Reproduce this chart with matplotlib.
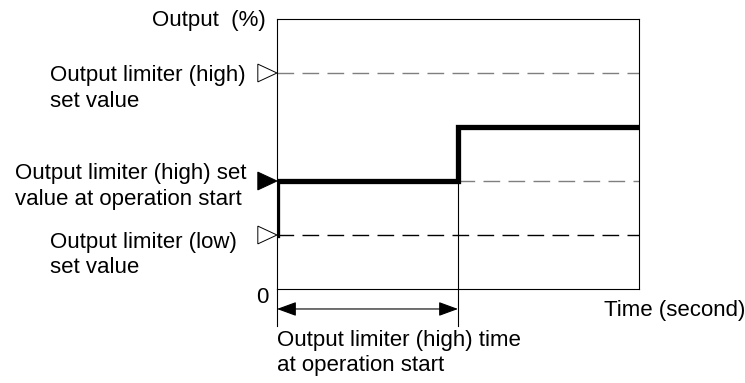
import matplotlib
matplotlib.use('Agg')
import matplotlib.pyplot as plt
from matplotlib.patches import Polygon

# output levels (%) and times (in axis units, 0..100)
low_limit = 20
start_limit = 40
high_limit = 80
step_level = 60
step_time = 50
t_end = 100

step_x = [0, 0, step_time, step_time, t_end]
step_y = [low_limit, start_limit, start_limit, step_level, step_level]

label_out = 'Output  (%)'
label_high = 'Output limiter (high)\nset value'
label_start = 'Output limiter (high) set\nvalue at operation start'
label_low = 'Output limiter (low)\nset value'
label_time = 'Time (second)'
label_span = 'Output limiter (high) time\nat operation start'

plt.rcParams['font.family'] = ['Liberation Sans', 'DejaVu Sans']
fs = 16
ls = 1.28

fig = plt.figure(figsize=(7.45, 3.83), dpi=100)
ax = fig.add_axes([277/745, 94/383, 362/745, 270/383])
ax.set_xlim(0, t_end)
ax.set_ylim(0, 100)
ax.set_xticks([])
ax.set_yticks([])
for s in ax.spines.values():
    s.set_linewidth(0.8)

gray = '#7f7f7f'
ax.plot([0, t_end], [high_limit] * 2, color=gray, lw=1, dashes=(12, 6))
ax.plot([step_time, t_end], [start_limit] * 2, color=gray, lw=1, dashes=(12, 6))
ax.plot([0, t_end], [low_limit] * 2, color='black', lw=1, dashes=(12, 6))

ax.plot(step_x, step_y, color='black', lw=3.8, solid_joinstyle='miter', zorder=4)

# triangle markers left of the axis (tip on the axis)
tw, th = 5.3, 3.3
for y, filled in [(high_limit, False), (start_limit, True), (low_limit, False)]:
    tri = Polygon([(0, y), (-tw, y + th), (-tw, y - th)], closed=True,
                  facecolor='black' if filled else 'white', edgecolor='black',
                  lw=0.7, clip_on=False, zorder=5)
    ax.add_patch(tri)

# guide lines below the axes
ax.plot([0, 0], [-13.7, 0], color='black', lw=0.8, clip_on=False)
ax.plot([step_time, step_time], [-13.7, start_limit], color='black', lw=0.8, clip_on=False)
ax.annotate('', xy=(step_time, -7.4), xytext=(0, -7.4), annotation_clip=False,
            arrowprops=dict(arrowstyle='<|-|>,head_length=0.6,head_width=0.22',
                            color='black', lw=0.8,
                            mutation_scale=20, shrinkA=0, shrinkB=0))

ax.text(-3.0, 99.6, label_out, ha='right', va='center', fontsize=fs)
ax.text(-62.7, 74.3, label_high, ha='left', va='center', fontsize=fs, linespacing=ls)
ax.text(-72.4, 38.0, label_start, ha='left', va='center', fontsize=fs, linespacing=ls)
ax.text(-62.7, 12.6, label_low, ha='left', va='center', fontsize=fs, linespacing=ls)
ax.text(-4.1, -3.0, '0', ha='center', va='center', fontsize=fs)
ax.text(90.3, -7.8, label_time, ha='left', va='center', fontsize=fs)
ax.text(0, -23.8, label_span, ha='left', va='center', fontsize=fs, linespacing=ls)

fig.savefig('out.png', dpi=100)
